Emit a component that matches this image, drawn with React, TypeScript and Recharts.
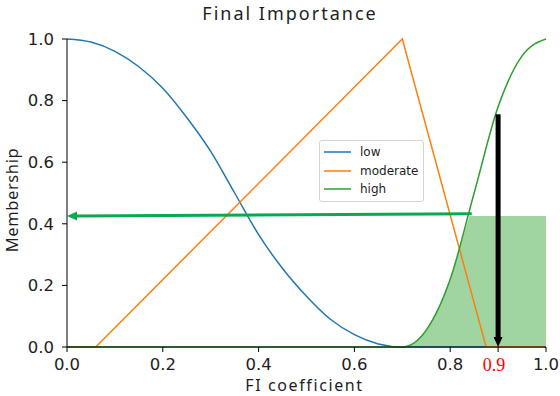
import {
  ComposedChart,
  Line,
  Area,
  XAxis,
  YAxis,
  Legend,
  ReferenceLine,
} from "recharts"

// membership functions
const lowX = [0, 0.05, 0.1, 0.15, 0.2, 0.25, 0.3, 0.35, 0.4, 0.45, 0.5, 0.55, 0.6, 0.65, 0.7, 1.0]
const lowY = [1.0, 0.99, 0.96, 0.91, 0.84, 0.745, 0.635, 0.5, 0.365, 0.255, 0.165, 0.09, 0.04, 0.01, 0, 0]

const moderateX = [0, 0.06, 0.7, 0.875, 1.0]
const moderateY = [0, 0, 1.0, 0, 0]

const highX = [0, 0.7, 0.75, 0.8, 0.85, 0.9, 0.95, 1.0]
const highY = [0, 0, 0.055, 0.22, 0.5, 0.78, 0.945, 1.0]

// clipped "high" region (activation)
const fillX = [0.7, 0.725, 0.75, 0.775, 0.8, 0.82, 0.84, 1.0]
const fillY = [0, 0.014, 0.055, 0.125, 0.22, 0.32, 0.425, 0.425]

const seriesNames = ["low", "moderate", "high"]
const xTicks = [0, 0.2, 0.4, 0.6, 0.8, 0.9, 1.0]
const yTicks = [0, 0.2, 0.4, 0.6, 0.8, 1.0]

const activation = 0.425
const crossX = 0.845
const crisp = 0.9
const crispTop = 0.756

const toPoints = (xs: number[], ys: number[]) => xs.map((x, i) => ({ x, y: ys[i] }))

const lowData = toPoints(lowX, lowY)
const moderateData = toPoints(moderateX, moderateY)
const highData = toPoints(highX, highY)
const fillData = toPoints(fillX, fillY)

const TICK_FONT = "'DejaVu Sans', sans-serif"
const LABEL_FONT = "'Noto Sans', sans-serif"
const TEXT = "#1e1e1e"

function arrowShape(color: string, width: number, headLen: number, headHalf: number) {
  return (props: any) => {
    const { x1, y1, x2, y2 } = props
    const dx = x2 - x1
    const dy = y2 - y1
    const len = Math.hypot(dx, dy) || 1
    const ux = dx / len
    const uy = dy / len
    const bx = x2 - ux * headLen
    const by = y2 - uy * headLen
    const px = -uy * headHalf
    const py = ux * headHalf
    return (
      <g>
        <line x1={x1} y1={y1} x2={bx} y2={by} stroke={color} strokeWidth={width} />
        <polygon
          points={`${x2},${y2} ${bx + px},${by + py} ${bx - px},${by - py}`}
          fill={color}
        />
      </g>
    )
  }
}

const XTick = (props: any) => {
  const { x, y, payload } = props
  const isCrisp = payload.value === crisp
  return (
    <text
      x={x}
      y={y}
      dx={isCrisp ? -4 : 0}
      dy="0.71em"
      textAnchor="middle"
      fill={isCrisp ? "#ff0000" : TEXT}
      fontFamily={isCrisp ? "'Liberation Serif', serif" : TICK_FONT}
      fontSize={isCrisp ? 18 : 16.5}
    >
      {Number(payload.value).toFixed(1)}
    </text>
  )
}

const LegendBox = ({ payload }: any) => {
  const items = (payload || [])
    .filter((p: any) => seriesNames.includes(p.value))
    .sort((a: any, b: any) => seriesNames.indexOf(a.value) - seriesNames.indexOf(b.value))
  return (
    <div
      style={{
        border: "1px solid #d4d4d4",
        borderRadius: 3,
        background: "rgba(255,255,255,0.85)",
        padding: "2px 4px",
        width: 105,
        boxSizing: "border-box",
      }}
    >
      {items.map((p: any) => (
        <div key={p.value} style={{ display: "flex", alignItems: "center", height: 18.5 }}>
          <svg width={27} height={4} style={{ marginRight: 9 }}>
            <line x1={0} y1={2} x2={27} y2={2} stroke={p.color} strokeWidth={1.5} />
          </svg>
          <span style={{ fontFamily: TICK_FONT, fontSize: 12, color: TEXT }}>{p.value}</span>
        </div>
      ))}
    </div>
  )
}

export default function App() {
  return (
    <div style={{ position: "absolute", left: 0, top: 0, width: 560, height: 396, background: "#fff" }}>
      <svg width={560} height={30} style={{ position: "absolute", left: 0, top: 0 }}>
        <text
          x={290}
          y={20}
          textAnchor="middle"
          fontFamily={LABEL_FONT}
          fontSize={18}
          letterSpacing={2}
          fill={TEXT}
        >
          Final Importance
        </text>
      </svg>
      <ComposedChart width={560} height={396} margin={{ top: 39, right: 14, bottom: 0, left: 0 }}>
        <XAxis
          dataKey="x"
          type="number"
          domain={[0, 1]}
          ticks={xTicks}
          interval={0}
          height={49}
          tickSize={5}
          tickMargin={6}
          stroke="#000"
          tick={<XTick />}
          label={{
            content: (p: any) => {
              const vb = p.viewBox
              return (
                <text
                  x={vb.x + vb.width / 2 - 2}
                  y={vb.y + 44}
                  textAnchor="middle"
                  fontFamily={LABEL_FONT}
                  fontSize={16}
                  letterSpacing={1.6}
                  fill={TEXT}
                >
                  FI coefficient
                </text>
              )
            },
          }}
        />
        <YAxis
          type="number"
          domain={[0, 1]}
          ticks={yTicks}
          width={67}
          tickSize={5}
          tickMargin={8}
          stroke="#000"
          tickFormatter={(v: number) => v.toFixed(1)}
          tick={{ fontFamily: TICK_FONT, fontSize: 16.5, fill: TEXT }}
          label={{
            content: (p: any) => {
              const vb = p.viewBox
              const cy = vb.y + vb.height / 2 + 7
              return (
                <text
                  x={18}
                  y={cy}
                  transform={`rotate(-90, 18, ${cy})`}
                  textAnchor="middle"
                  fontFamily={LABEL_FONT}
                  fontSize={16.5}
                  letterSpacing={0.6}
                  fill={TEXT}
                >
                  Membership
                </text>
              )
            },
          }}
        />
        <Area
          data={fillData}
          dataKey="y"
          type="linear"
          stroke="none"
          fill="#2ca02c"
          fillOpacity={0.45}
          legendType="none"
          isAnimationActive={false}
        />
        <Line data={lowData} dataKey="y" name="low" type="monotone" stroke="#1f77b4" strokeWidth={1.5} dot={false} isAnimationActive={false} />
        <Line data={moderateData} dataKey="y" name="moderate" type="linear" stroke="#ff7f0e" strokeWidth={1.5} dot={false} isAnimationActive={false} />
        <Line data={highData} dataKey="y" name="high" type="monotone" stroke="#2ca02c" strokeWidth={1.5} dot={false} isAnimationActive={false} />
        <ReferenceLine
          segment={[{ x: crossX, y: activation + 0.008 }, { x: 0, y: activation }]}
          shape={arrowShape("#0aa84f", 3, 10, 4.5)}
        />
        <ReferenceLine
          segment={[{ x: crisp, y: crispTop }, { x: crisp, y: 0 }]}
          shape={arrowShape("#000", 5, 10, 4.5)}
        />
        <Legend
          layout="vertical"
          verticalAlign="middle"
          align="center"
          wrapperStyle={{ left: 319, top: 140, width: 105 }}
          content={<LegendBox />}
        />
      </ComposedChart>
    </div>
  )
}
